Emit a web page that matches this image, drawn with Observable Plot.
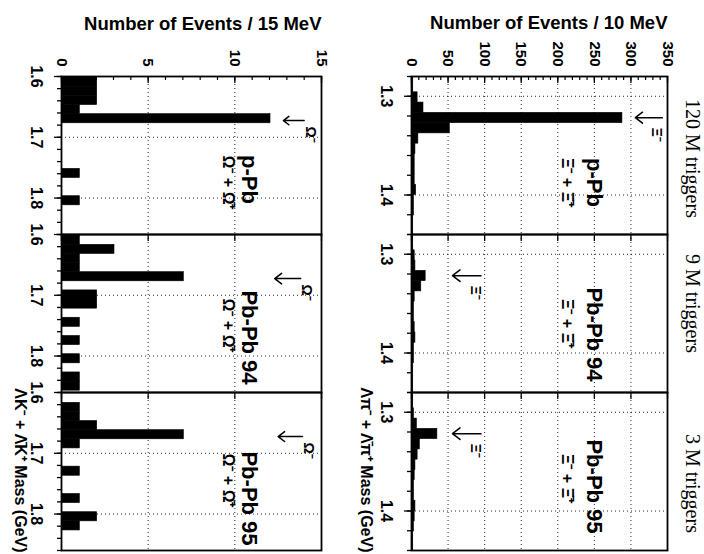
<!DOCTYPE html>
<html>
<head>
<meta charset="utf-8">
<script src="https://cdn.jsdelivr.net/npm/d3@7"></script>
<script src="https://cdn.jsdelivr.net/npm/@observablehq/plot@0.6"></script>
<style>
html, body { margin: 0; padding: 0; background: #fff; overflow: hidden; width: 704px; height: 554px; }
#page { position: absolute; left: 0; top: 0; width: 554px; height: 704px; transform-origin: 0 0; transform: translate(704px, 0) rotate(90deg); background: #fff; }
#page svg { position: absolute; left: 0; }
</style>
</head>
<body>
<div id="page"></div>
<script>
// ---------- data ----------
const datasets = ["p-Pb", "Pb-Pb 94", "Pb-Pb 95"];
const triggers = ["120 M triggers", "9 M triggers", "3 M triggers"];

// Xi (Λπ) histograms, ~10 MeV bins
const xiBinLow = [1.2752, 1.2856, 1.2960, 1.3064, 1.3168, 1.3272, 1.3376, 1.3480, 1.3584, 1.3688, 1.3792, 1.3896, 1.4000, 1.4104, 1.4208, 1.4312];
const xiBinWidth = 0.0104;
const xiCountsPPb    = [1, 1, 7, 15, 287, 51, 8, 4, 3, 3, 3, 5, 2, 2, 1, 1];
const xiCountsPbPb94 = [1, 1, 3, 4, 18, 12, 3, 2, 2, 3, 4, 2, 2, 1, 1, 1];
const xiCountsPbPb95 = [1, 1, 2, 6, 34, 10, 7, 4, 3, 2, 2, 4, 3, 2, 1, 1];
const xiMass = 1.3217;
const xiArrowTip  = [306, 56, 56];
const xiArrowTail = [343, 95, 95];
const xiMassTicks  = [1.3, 1.4];
const xiMassMinor  = [1.28, 1.30, 1.32, 1.34, 1.36, 1.38, 1.40, 1.42, 1.44];
const xiCountTicks = [0, 50, 100, 150, 200, 250, 300, 350];
const xiCountMinor = [0, 10, 20, 30, 40, 50, 60, 70, 80, 90, 100, 110, 120, 130, 140, 150, 160, 170, 180, 190, 200, 210, 220, 230, 240, 250, 260, 270, 280, 290, 300, 310, 320, 330, 340, 350];
const xiCountGrid  = [50, 100, 150, 200, 250, 300];

// Omega (ΛK) histograms, 15 MeV bins
const omegaBinLow = [1.587, 1.602, 1.617, 1.632, 1.647, 1.662, 1.677, 1.692, 1.707, 1.722, 1.737, 1.752, 1.767, 1.782, 1.797, 1.812, 1.827, 1.842];
const omegaBinWidth = 0.015;
const omegaCountsPPb    = [2, 2, 2, 2, 1, 12, 0, 0, 0, 0, 0, 1, 0, 0, 1, 0, 0, 0];
const omegaCountsPbPb94 = [1, 1, 3, 1, 1, 7, 0, 2, 2, 0, 1, 0, 1, 0, 1, 0, 1, 1];
const omegaCountsPbPb95 = [0, 0, 1, 1, 2, 7, 1, 0, 0, 1, 0, 0, 1, 0, 2, 1, 0, 0];
const omegaMass = 1.6725;
const omegaArrowTip  = [12.8, 12.3, 12.5];
const omegaArrowTail = [14.0, 13.8, 13.9];
const omegaMassTicks  = [1.6, 1.7, 1.8];
const omegaMassMinor  = [1.60, 1.62, 1.64, 1.66, 1.68, 1.70, 1.72, 1.74, 1.76, 1.78, 1.80, 1.82, 1.84, 1.86];
const omegaCountTicks = [0, 5, 10, 15];
const omegaCountMinor = [0, 1, 2, 3, 4, 5, 6, 7, 8, 9, 10, 11, 12, 13, 14, 15];
const omegaCountGrid  = [5, 10];

// ---------- drawing ----------
const SANS = "'Liberation Sans', Arial, Helvetica, sans-serif";
const SERIF = "'Liberation Serif', 'Times New Roman', serif";
const fmt1 = d3.format(".1f");

function row(o) {
  const bars = [];
  datasets.forEach((s, i) => o.counts[i].forEach((c, j) => {
    if (c > 0) bars.push({set: s, lo: o.binLow[j], hi: o.binLow[j] + o.binWidth, n: c});
  }));
  const arrows = datasets.map((s, i) => ({set: s, m: o.mass, tip: o.arrowTip[i], tail: o.arrowTail[i]}));
  const facetText = (i, text, extra) => Plot.text([{set: datasets[i]}], {fx: "set", text: () => text, ...extra});
  const marks = [
    Plot.gridX({ticks: o.massTicks, stroke: "black", strokeOpacity: 0.85, strokeDasharray: "1,3"}),
    Plot.gridY({ticks: o.countGrid, stroke: "black", strokeOpacity: 0.85, strokeDasharray: "1,3"}),
    Plot.rectY(bars, {fx: "set", x1: "lo", x2: "hi", y: "n", fill: "black", stroke: "black", strokeWidth: 0.6, clip: true}),
    Plot.frame({stroke: "black", strokeWidth: 1.8}),
    // mass axis: minor + major outward ticks, labels
    Plot.axisX({ticks: o.massMinor, tickSize: 5, fill: "none", label: null, strokeWidth: 1.3}),
    Plot.axisX({ticks: o.massTicks, tickSize: 8, fill: "none", label: null, strokeWidth: 1.3}),
    Plot.axisX({ticks: o.massTicks, tickSize: 0, tickPadding: 19, tickFormat: fmt1, label: null, fontSize: 16, fontWeight: "bold"}),
    // count axis: inward ticks, labels on first panel
    Plot.axisY({ticks: o.countMinor, tickSize: -4, fill: "none", label: null, strokeWidth: 1.2}),
    Plot.axisY({ticks: o.countTicks, tickSize: -7, fill: "none", label: null, facetAnchor: null, strokeWidth: 1.3}),
    Plot.axisY({ticks: o.countTicks, tickSize: 0, tickPadding: 10, tickFormat: d3.format("d"), label: null, fontSize: 15, fontWeight: "bold"}),
    // particle arrows and labels
    Plot.arrow(arrows, {fx: "set", x: "m", y1: "tail", y2: "tip", stroke: "black", strokeWidth: 1.5, headLength: 13, headAngle: 75}),
    Plot.text(arrows, {fx: "set", x: "m", y: "tail", text: () => o.arrowLabel, textAnchor: "start", lineAnchor: "middle", dx: o.arrowLabelDx, dy: o.arrowLabelDy, fontSize: 14, fontWeight: "bold"}),
    // axis titles
    facetText(0, o.countLabel, {frameAnchor: "top-left", rotate: -90, textAnchor: "end", lineAnchor: "middle", dx: o.countLabelDx, fontSize: 18.5, fontWeight: "bold"}),
    facetText(2, o.massLabel, {frameAnchor: "bottom-right", textAnchor: "end", lineAnchor: "middle", dx: 2, dy: o.massLabelDy, fontSize: 16, fontWeight: "bold"})
  ];
  datasets.forEach((s, i) => {
    marks.push(facetText(i, s, {frameAnchor: "top-left", textAnchor: "middle", lineAnchor: "middle", dx: o.mainDx[i], dy: o.mainDy, fontSize: 22, fontWeight: "bold"}));
    marks.push(facetText(i, o.subLabel, {frameAnchor: "top-left", textAnchor: "middle", lineAnchor: "middle", dx: o.subDx[i], dy: o.subDy, fontSize: 16, fontWeight: "bold"}));
    if (o.showTriggers) marks.push(facetText(i, triggers[i], {frameAnchor: "top", textAnchor: "middle", lineAnchor: "middle", dx: o.trigDx[i], dy: -25, fontSize: 20, fontWeight: "normal", fontFamily: SERIF}));
  });
  return Plot.plot({
    width: 554, height: o.height,
    marginLeft: 75, marginRight: 3, marginTop: o.marginTop, marginBottom: o.marginBottom,
    style: {fontFamily: SANS, color: "black", background: "white", overflow: "visible"},
    fx: {domain: datasets, axis: null, padding: 0},
    x: {domain: o.xDomain, axis: null},
    y: {domain: o.yDomain, axis: null},
    marks
  });
}

const xiPlot = row({
  height: 350, marginTop: 36, marginBottom: 58,
  xDomain: [1.28, 1.44], yDomain: [0, 350],
  binLow: xiBinLow, binWidth: xiBinWidth,
  counts: [xiCountsPPb, xiCountsPbPb94, xiCountsPbPb95],
  mass: xiMass, arrowTip: xiArrowTip, arrowTail: xiArrowTail,
  arrowLabel: "\u039E\u207B", arrowLabelDx: 10, arrowLabelDy: 6,
  massTicks: xiMassTicks, massMinor: xiMassMinor,
  countTicks: xiCountTicks, countMinor: xiCountMinor, countGrid: xiCountGrid,
  countLabel: "Number of Events / 10 MeV", countLabelDx: -53,
  massLabel: "\u039B\u03C0\u207B + \u039B\u0304\u03C0\u207A Mass (GeV)", massLabelDy: 45,
  subLabel: "\u039E\u207B + \u039E\u0304\u207A",
  mainDx: [106, 100, 94], mainDy: 73,
  subDx: [106, 89, 86], subDy: 100,
  showTriggers: true, trigDx: [3, -10, 12]
});
xiPlot.style.top = "0px";

const omegaPlot = row({
  height: 354, marginTop: 32, marginBottom: 62,
  xDomain: [1.6, 1.86], yDomain: [0, 15],
  binLow: omegaBinLow, binWidth: omegaBinWidth,
  counts: [omegaCountsPPb, omegaCountsPbPb94, omegaCountsPbPb95],
  mass: omegaMass, arrowTip: omegaArrowTip, arrowTail: omegaArrowTail,
  arrowLabel: "\u03A9\u207B", arrowLabelDx: 6, arrowLabelDy: -6,
  massTicks: omegaMassTicks, massMinor: omegaMassMinor,
  countTicks: omegaCountTicks, countMinor: omegaCountMinor, countGrid: omegaCountGrid,
  countLabel: "Number of Events / 15 MeV", countLabelDx: -52,
  massLabel: "\u039BK\u207B + \u039B\u0304K\u207A Mass (GeV)", massLabelDy: 41,
  subLabel: "\u03A9\u207B + \u03A9\u0304\u207A",
  mainDx: [103, 103, 106], mainDy: 72,
  subDx: [106, 91, 88], subDy: 93,
  showTriggers: false, trigDx: [0, 0, 0]
});
omegaPlot.style.top = "350px";

document.getElementById("page").append(xiPlot, omegaPlot);
</script>
</body>
</html>
